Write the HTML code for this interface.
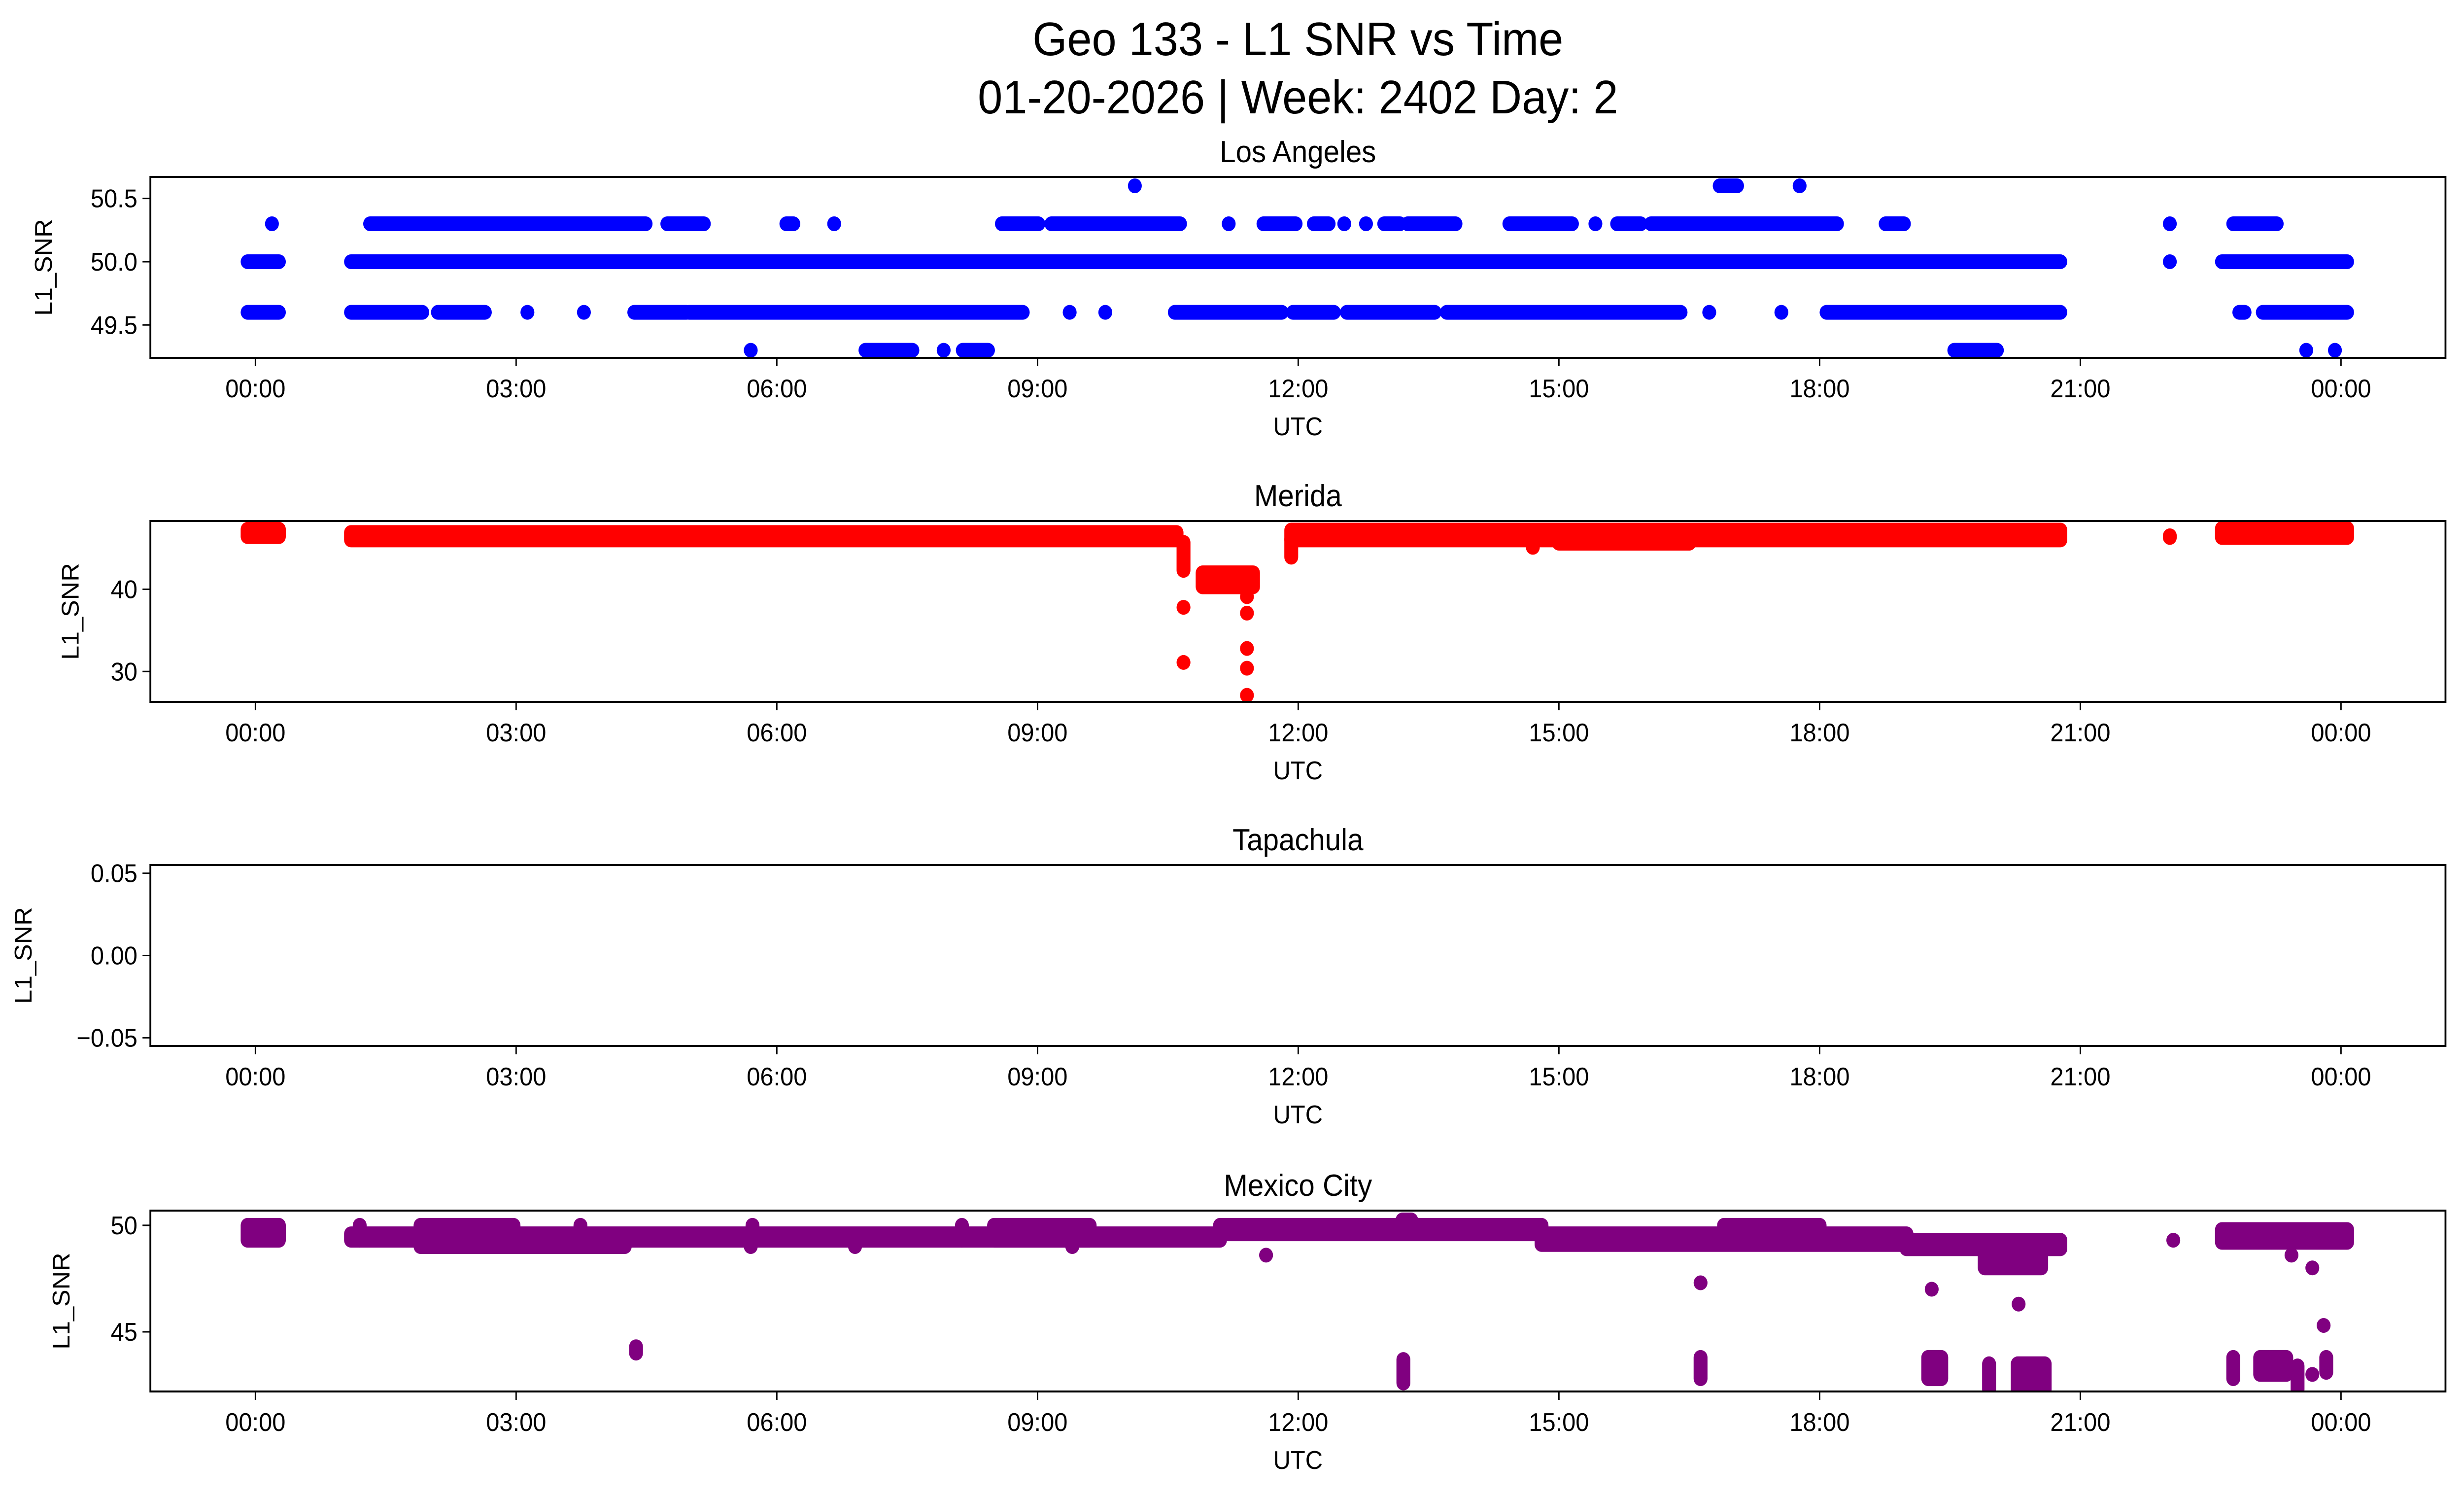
<!DOCTYPE html>
<html><head><meta charset="utf-8">
<style>
html,body{margin:0;padding:0;background:#fff;width:100%;height:100%;overflow:hidden;}
svg{display:block;width:100vw;height:100vh;font-family:"Liberation Sans","DejaVu Sans",sans-serif;}
</style></head>
<body>
<svg id="fig" xmlns="http://www.w3.org/2000/svg" viewBox="0 0 5325 3033" preserveAspectRatio="none">
<rect x="0" y="0" width="5325" height="3033" fill="#fff"/>
<text x="2805" y="112" font-size="96" text-anchor="middle">Geo 133 - L1 SNR vs Time</text>
<text x="2805" y="230" font-size="96" text-anchor="middle">01-20-2026 | Week: 2402 Day: 2</text>
</svg>
<script>
// ---- data (hours UTC, SNR values) ----
const xTickHours = [0, 3, 6, 9, 12, 15, 18, 21, 24];
const xTickLabels = ["00:00","03:00","06:00","09:00","12:00","15:00","18:00","21:00","00:00"];
const panelNames = ["Los Angeles","Merida","Tapachula","Mexico City"];
const panelColors = ["#0000ff","#ff0000","#800080","#800080"];
const yMins = [49.24, 26.3, -0.055, 42.2];
const yMaxs = [50.67, 48.3, 0.055, 50.69];
const yTicks1 = [49.5, 50.0, 50.5];
const yTickLabels1 = ["49.5","50.0","50.5"];
const yTicks2 = [30, 40];
const yTickLabels2 = ["30","40"];
const yTicks3 = [-0.05, 0, 0.05];
const yTickLabels3 = ["\u22120.05","0.00","0.05"];
const yTicks4 = [45, 50];
const yTickLabels4 = ["45","50"];

// Los Angeles runs: start hour, end hour, value
const laStart = [-0.09,1.10,22.03,22.63, -0.09,1.10,2.10,3.13,3.78,4.36,4.99,9.37,9.78,10.58,11.94,12.56,13.71,16.73,17.56,18.08,22.83,23.10,
 0.19,1.32,4.74,6.11,6.66,8.59,9.16,11.2,11.6,12.18,12.53,12.78,12.99,13.26,14.43,15.42,15.67,16.06,18.76,22.03,22.76,
 10.12,16.85,17.77, 5.7,7.02,7.92,8.14,19.55,23.6,23.93];
const laEnd = [0.27,20.77,22.03,24.07, 0.27,1.92,2.64,3.13,3.78,4.96,8.83,9.37,9.78,11.81,12.41,13.57,16.4,16.73,17.56,20.77,22.89,24.07,
 0.19,4.49,5.16,6.19,6.66,9.01,10.64,11.2,11.97,12.35,12.53,12.78,13.17,13.81,15.15,15.42,15.94,18.2,18.97,22.03,23.26,
 10.12,17.05,17.77, 5.7,7.56,7.92,8.43,20.04,23.6,23.93];
const laVal = [50,50,50,50, 49.6,49.6,49.6,49.6,49.6,49.6,49.6,49.6,49.6,49.6,49.6,49.6,49.6,49.6,49.6,49.6,49.6,49.6,
 50.3,50.3,50.3,50.3,50.3,50.3,50.3,50.3,50.3,50.3,50.3,50.3,50.3,50.3,50.3,50.3,50.3,50.3,50.3,50.3,50.3,
 50.6,50.6,50.6, 49.3,49.3,49.3,49.3,49.3,49.3,49.3];

// Merida runs: start, end, low, high
const meStart = [-0.09,1.10,11.92,15.0,22.03,22.63,14.7,10.68,10.68,10.68,10.9,11.41,11.41,11.41,11.41,11.41,11.92];
const meEnd   = [0.27,10.6,20.77,16.5,22.03,24.07,14.7,10.68,10.68,10.68,11.48,11.41,11.41,11.41,11.41,11.41,11.92];
const meLo    = [46.4,46.0,46.0,45.6,46.3,46.3,45.1,42.3,37.8,31.1,40.3,39.1,37.1,32.8,30.4,27.1,43.9];
const meHi    = [47.3,46.9,47.2,46.6,46.5,47.4,45.1,45.7,37.8,31.1,42.0,39.1,37.1,32.8,30.4,27.1,46.1];

// Tapachula: no data
const taStart = [];
const taEnd = [];
const taLo = [];
const taHi = [];

// Mexico City runs: start, end, low, high
const mxStart = [-0.09,1.10,1.9,8.5,11.1,14.8,16.9,19.0,22.07,22.63,1.2,5.72,8.13,3.74,1.9,5.7,6.9,9.4,13.2,
 4.38,11.63,13.21,16.63,16.63,19.29,19.25,19.95,20.28,20.29,19.9,22.76,23.07,23.5,23.67,23.83,23.8,23.67,23.43];
const mxEnd   = [0.27,11.1,2.97,9.6,14.8,19.0,18.0,20.77,22.07,24.07,1.2,5.72,8.13,3.74,4.25,5.7,6.9,9.4,13.3,
 4.38,11.63,13.21,16.63,16.63,19.29,19.4,19.95,20.59,20.29,20.55,22.76,23.37,23.5,23.67,23.83,23.8,23.67,23.43];
const mxLo    = [49.3,49.3,49.3,49.3,49.6,49.1,49.3,48.9,49.3,49.2,49.3,49.3,49.3,49.3,49.0,49.0,49.0,49.0,50.0,
 44.0,48.6,42.6,47.3,42.8,47.0,42.8,42.3,42.3,46.3,48.0,42.8,43.0,42.3,43.0,43.1,45.3,48.0,48.6];
const mxHi    = [50.0,49.6,50.0,50.0,50.0,49.6,50.0,49.3,49.3,49.8,50.0,50.0,50.0,50.0,49.3,49.3,49.3,49.3,50.25,
 44.3,48.6,43.7,47.3,43.8,47.0,43.8,43.5,43.5,46.3,48.6,43.8,43.8,43.4,43.0,43.8,45.3,48.0,48.6];

// ---- layout ----
const NS = "http://www.w3.org/2000/svg";
const svg = document.getElementById("fig");
const AX_L = 325, AX_R = 5285, PANEL_H = 367;
const panelTops = [359, 1057, 1755, 2456];
const ylabelX = [112, 170, 68, 150];
const H0 = 552, PX_PER_H = 187.8, R = 15;
function xScale(h){ return H0 + h*PX_PER_H; }
function makeY(i){ const t=panelTops[i], b=t+PANEL_H, lo=yMins[i], hi=yMaxs[i];
  return v => b - (v-lo)/(hi-lo)*(b-t); }
function el(tag, attrs, parent){ const e=document.createElementNS(NS,tag);
  for(const k in attrs) e.setAttribute(k, attrs[k]); (parent||svg).appendChild(e); return e; }

const yTickSets = [yTicks1,yTicks2,yTicks3,yTicks4];
const yTickLabelSets = [yTickLabels1,yTickLabels2,yTickLabels3,yTickLabels4];
const slugs = ["los-angeles","merida","tapachula","mexico-city"];
const runs = [
  {s:laStart,e:laEnd,lo:laVal,hi:laVal},
  {s:meStart,e:meEnd,lo:meLo,hi:meHi},
  {s:taStart,e:taEnd,lo:taLo,hi:taHi},
  {s:mxStart,e:mxEnd,lo:mxLo,hi:mxHi}
];

for(let i=0;i<4;i++){
  const top=panelTops[i], bot=top+PANEL_H, y=makeY(i);
  const g = el("g",{});
  
  
  const clipId="clip"+i;
  const cp = el("clipPath",{id:clipId}, g);
  el("rect",{x:AX_L,y:top,width:AX_R-AX_L,height:PANEL_H},cp);
  const marks = el("g",{"clip-path":"url(#"+clipId+")"}, g);
  
  
  const d = runs[i];
  for(let k=0;k<d.s.length;k++){
    const x1=xScale(d.s[k])-R, x2=xScale(d.e[k])+R;
    const y1=y(d.hi[k])-R, y2=y(d.lo[k])+R;
    const m = el("rect",{x:x1,y:y1,width:x2-x1,height:y2-y1,rx:R,ry:R,fill:panelColors[i]}, marks);
    
    
  }
  const frame = el("rect",{x:AX_L,y:top,width:AX_R-AX_L,height:PANEL_H,fill:"none",stroke:"#000","stroke-width":4}, g);
  
  
  for(let k=0;k<xTickHours.length;k++){
    const x=xScale(xTickHours[k]);
    const tl = el("line",{x1:x,y1:bot,x2:x,y2:bot+17,stroke:"#000","stroke-width":3}, g);
    
    
    const tx = el("text",{x:x,y:bot+80,"font-size":52,"text-anchor":"middle"}, g);
    tx.textContent = xTickLabels[k];
    
    
  }
  const yt=yTickSets[i], ytl=yTickLabelSets[i];
  for(let k=0;k<yt.length;k++){
    const yy=y(yt[k]);
    const tl = el("line",{x1:AX_L-17,y1:yy,x2:AX_L,y2:yy,stroke:"#000","stroke-width":3}, g);
    
    
    const tx = el("text",{x:AX_L-28,y:yy+18,"font-size":52,"text-anchor":"end"}, g);
    tx.textContent = ytl[k];
    
    
  }
  const ttl = el("text",{x:(AX_L+AX_R)/2,y:top-30,"font-size":62,"text-anchor":"middle"}, g);
  ttl.textContent = panelNames[i];
  
  
  const xl = el("text",{x:(AX_L+AX_R)/2,y:bot+157,"font-size":52,"text-anchor":"middle"}, g);
  xl.textContent = "UTC";
  
  
  const cy=(top+bot)/2;
  const yl = el("text",{x:ylabelX[i],y:cy,"font-size":52,"text-anchor":"middle",transform:"rotate(-90 "+ylabelX[i]+" "+cy+")"}, g);
  yl.textContent = "L1_SNR";
  
  
}
</script>
</body></html>
